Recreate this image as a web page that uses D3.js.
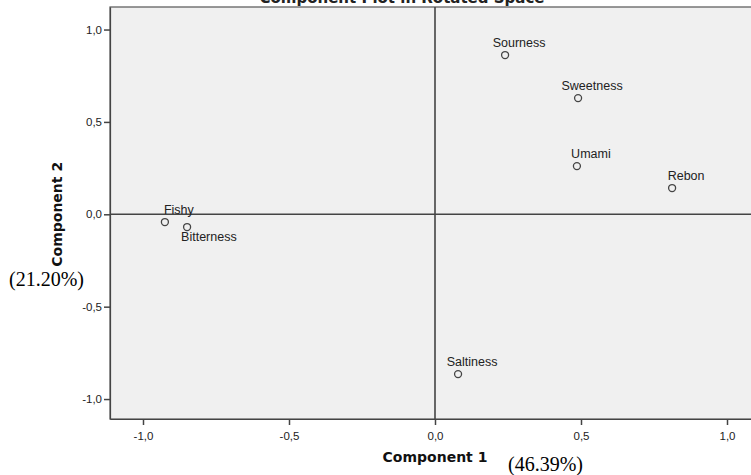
<!DOCTYPE html>
<html>
<head>
<meta charset="utf-8">
<script src="https://cdn.jsdelivr.net/npm/d3@7/dist/d3.min.js"></script>
<style>
  html, body { margin: 0; padding: 0; background: #ffffff; }
  svg { display: block; }
</style>
</head>
<body>
<svg id="chart" width="751" height="475"></svg>
<script>
// Component loadings after rotation
const variables = ["Fishy", "Bitterness", "Sourness", "Sweetness", "Umami", "Rebon", "Saltiness"];
const component1 = [-0.925, -0.849, 0.240, 0.490, 0.486, 0.812, 0.079];
const component2 = [-0.042, -0.069, 0.862, 0.629, 0.261, 0.142, -0.865];
const tickValues = [-1.0, -0.5, 0.0, 0.5, 1.0];
const titleText = "Component Plot in Rotated Space";
const xTitle = "Component 1";
const yTitle = "Component 2";
const xVariance = "(46.39%)";
const yVariance = "(21.20%)";

const svg = d3.select("#chart");
const sans = "'DejaVu Sans', Verdana, sans-serif";
const arial = "'Liberation Sans', Arial, sans-serif";

const plot = { left: 110, top: 7, right: 760, bottom: 419 };

const x = d3.scaleLinear().domain([-1.113, 1.113]).range([plot.left, plot.right]);
const y = d3.scaleLinear().domain([-1.108, 1.122]).range([plot.bottom, plot.top]);

// Plot background and frame
svg.append("rect")
  .attr("x", plot.left).attr("y", plot.top)
  .attr("width", plot.right - plot.left).attr("height", plot.bottom - plot.top)
  .attr("fill", "#f0f0f0")
  .attr("stroke", "#555").attr("stroke-width", 1.2);

// Reference lines through the origin
svg.append("line")
  .attr("x1", x(0)).attr("x2", x(0))
  .attr("y1", plot.top).attr("y2", plot.bottom)
  .attr("stroke", "#444").attr("stroke-width", 1.6);
svg.append("line")
  .attr("x1", plot.left).attr("x2", plot.right)
  .attr("y1", y(0)).attr("y2", y(0))
  .attr("stroke", "#444").attr("stroke-width", 1.6);

const fmt = v => d3.format(".1f")(v).replace(".", ",").replace("−", "-");

// Axes
const xAxis = d3.axisBottom(x).tickValues(tickValues).tickFormat(fmt).tickSize(6).tickSizeOuter(0);
const yAxis = d3.axisLeft(y).tickValues(tickValues).tickFormat(fmt).tickSize(6).tickSizeOuter(0);

const gx = svg.append("g").attr("transform", `translate(0,${plot.bottom})`).call(xAxis);
const gy = svg.append("g").attr("transform", `translate(${plot.left},0)`).call(yAxis);
[gx, gy].forEach(g => {
  g.select(".domain").attr("stroke", "#444").attr("stroke-width", 1.2);
  g.selectAll(".tick line").attr("stroke", "#444").attr("stroke-width", 1.5);
  g.selectAll(".tick text").attr("fill", "#222")
    .style("font-family", arial).style("font-size", "11.5px");
});
gx.selectAll(".tick text").attr("dy", "1.0em");
gy.selectAll(".tick text").attr("x", -8);

// Title (runs off the top edge)
svg.append("text")
  .attr("x", 402).attr("y", 3)
  .attr("text-anchor", "middle")
  .style("font-family", sans).style("font-weight", "bold").style("font-size", "15px")
  .attr("fill", "#222")
  .text(titleText);

// Axis titles
svg.append("text")
  .attr("x", x(0)).attr("y", 462)
  .attr("text-anchor", "middle")
  .style("font-family", sans).style("font-weight", "bold").style("font-size", "14px")
  .attr("fill", "#111")
  .text(xTitle);
svg.append("text")
  .attr("transform", `translate(62,${y(0)}) rotate(-90)`)
  .attr("text-anchor", "middle")
  .style("font-family", sans).style("font-weight", "bold").style("font-size", "14px")
  .attr("fill", "#111")
  .text(yTitle);

// Explained variance annotations
svg.append("text")
  .attr("x", 508).attr("y", 471)
  .style("font-family", "'Liberation Serif', 'Times New Roman', serif").style("font-size", "20px")
  .attr("fill", "#000")
  .text(xVariance);
svg.append("text")
  .attr("x", 9).attr("y", 286)
  .style("font-family", "'Liberation Serif', 'Times New Roman', serif").style("font-size", "20px")
  .attr("fill", "#000")
  .text(yVariance);

// Loadings: open circles with variable names
const points = variables.map((name, i) => ({ name, c1: component1[i], c2: component2[i] }));
const below = new Set(["Bitterness"]);

const pg = svg.append("g");
pg.selectAll("circle")
  .data(points)
  .join("circle")
  .attr("cx", d => x(d.c1))
  .attr("cy", d => y(d.c2))
  .attr("r", 3.5)
  .attr("fill", "none")
  .attr("stroke", "#444")
  .attr("stroke-width", 1.3);

pg.selectAll("text")
  .data(points)
  .join("text")
  .attr("x", d => below.has(d.name) ? x(d.c1) - 6 : x(d.c1) + 14)
  .attr("y", d => below.has(d.name) ? y(d.c2) + 14 : y(d.c2) - 8)
  .attr("text-anchor", d => below.has(d.name) ? "start" : "middle")
  .style("font-family", arial).style("font-size", "12.5px")
  .attr("fill", "#222")
  .text(d => d.name);
</script>
</body>
</html>
